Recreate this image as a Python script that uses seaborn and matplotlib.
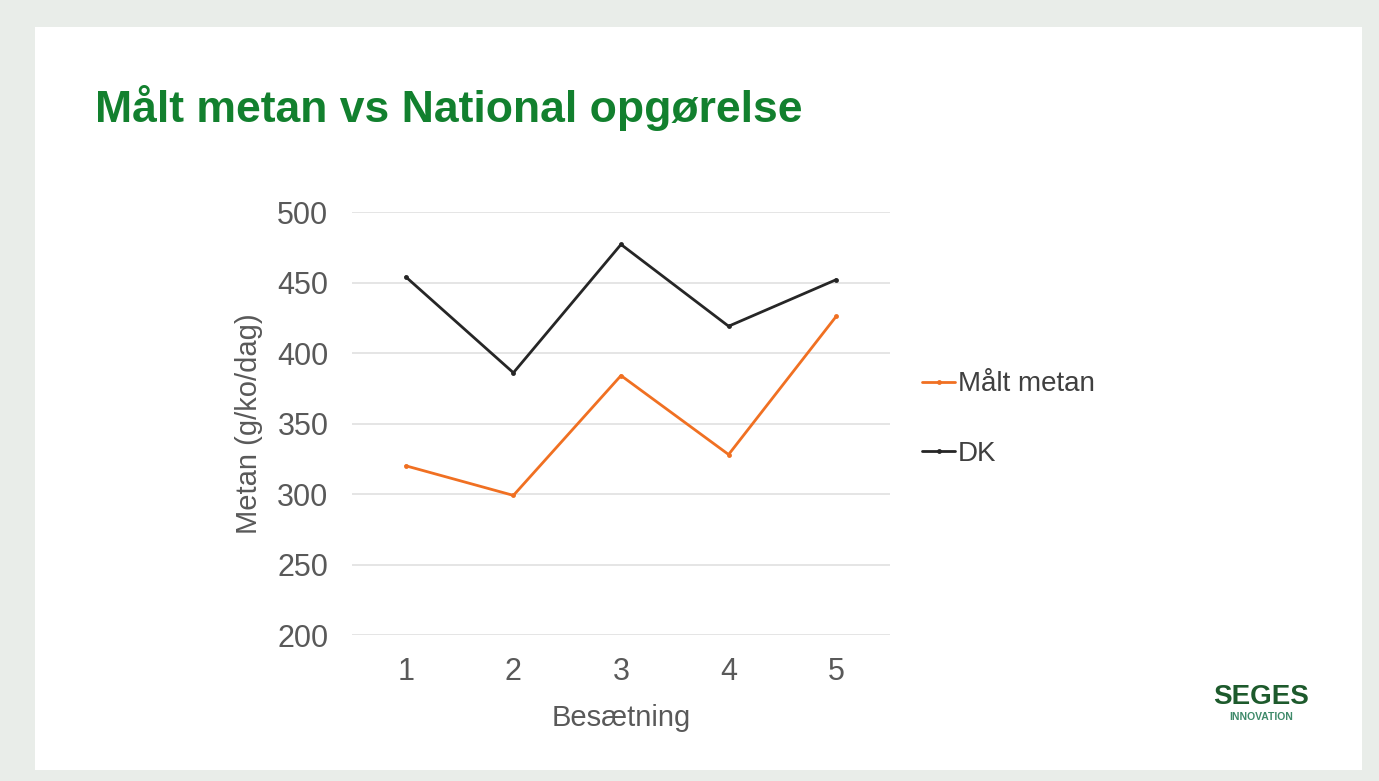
import numpy as np
import pandas as pd
import matplotlib.pyplot as plt
import matplotlib.patches as mpatches
import seaborn as sns

# data
besaetning = [1, 2, 3, 4, 5]
maalt_metan = [320, 299, 384, 328, 426]
dk = [454, 386, 477, 419, 452]
yticks = [200, 250, 300, 350, 400, 450, 500]

df = pd.DataFrame({
    "Besætning": besaetning * 2,
    "Metan": maalt_metan + dk,
    "Serie": ["Målt metan"] * 5 + ["DK"] * 5,
})

sns.set_theme(style="white")
plt.rcParams["font.family"] = ["Liberation Sans", "DejaVu Sans"]

fig = plt.figure(figsize=(13.79, 7.81), dpi=100)
fig.patch.set_facecolor("#e9ede9")
# white slide area
fig.patches.append(mpatches.Rectangle((35 / 1379, 1 - 770 / 781), (1362 - 35) / 1379, (770 - 27) / 781,
                                      transform=fig.transFigure, facecolor="white",
                                      edgecolor="none", zorder=-1))

ax = fig.add_axes([352 / 1379, 1 - 635 / 781, (890 - 352) / 1379, (635 - 212) / 781])
ax.set_zorder(2)
ax.set_facecolor("white")

palette = {"Målt metan": "#f07022", "DK": "#262626"}
sns.lineplot(data=df, x="Besætning", y="Metan", hue="Serie", palette=palette,
             marker="o", markersize=3.5, markeredgewidth=0, linewidth=2, ax=ax, legend=False)

ax.set_xlim(0.5, 5.5)
ax.set_ylim(200, 500)
ax.set_yticks(yticks)
ax.set_xticks(besaetning)
ax.yaxis.grid(True, color="#e3e3e3", linewidth=1.3)
ax.set_axisbelow(True)
for s in ax.spines.values():
    s.set_visible(False)
ax.tick_params(axis="both", length=0, labelsize=22, labelcolor="#595959")
ax.tick_params(axis="y", pad=17)
ax.tick_params(axis="x", pad=16)
ax.set_xlabel("Besætning", fontsize=21, color="#595959", labelpad=12)
ax.set_ylabel("Metan (g/ko/dag)", fontsize=21, color="#595959", labelpad=10)

# legend
handles = [plt.Line2D([], [], color=palette[k], linewidth=2, marker="o", markersize=3.5,
                      markeredgewidth=0) for k in ["Målt metan", "DK"]]
fig.legend(handles, ["Målt metan", "DK"], loc="center left",
           bbox_to_anchor=(897 / 1379, 1 - 419 / 781), frameon=False, fontsize=20,
           handlelength=1.2, handletextpad=0.1, labelspacing=1.55, labelcolor="#404040")

fig.text(95 / 1379, 1 - 108 / 781, "Målt metan vs National opgørelse", fontsize=32,
         fontweight="bold", color="#12802e", va="center", ha="left")

# logo
fig.text(1261 / 1379, 1 - 697 / 781, "SEGES", fontsize=20, fontweight="bold",
         color="#1d5a2c", ha="center", va="center")
fig.text(1261 / 1379, 1 - 717 / 781, "INNOVATION", fontsize=7.5, fontweight="bold",
         color="#3f8a6a", ha="center", va="center")

fig.savefig("out.png", dpi=100, facecolor=fig.get_facecolor())
